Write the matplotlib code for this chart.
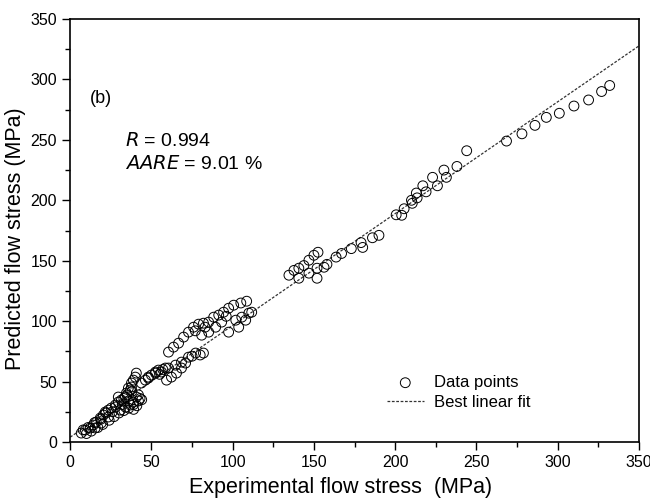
import matplotlib.pyplot as plt
import numpy as np
from matplotlib.ticker import MultipleLocator

plt.rcParams['font.family'] = ['Liberation Sans', 'DejaVu Sans']

# experimental vs predicted flow stress (MPa)
x_low = [6.8, 9.3, 12.3, 14.2, 16, 18.5, 20.4, 21.6, 23.5, 25.3, 27.8, 29.6, 31.5, 34, 34.6,
         37, 37.7, 38.9, 40.1, 40.7, 37.7, 35.8, 29.6, 37, 38.9, 40.7, 34, 30.9, 23.5, 19.1,
         15.4, 10, 13, 17, 20, 24, 27, 30, 33, 36, 39, 42, 41, 43,
         8, 11, 15, 19, 22, 26, 28, 32, 35, 38, 42, 44, 39, 36, 33]
y_low = [7.4, 9.9, 11.6, 14, 16.5, 19.8, 22.3, 24.8, 26.4, 28.1, 30.6, 33, 34.7, 37.2, 40.5,
         43, 45.5, 51.2, 53.7, 57, 48.8, 44.6, 37.2, 30.6, 33, 37.2, 28.9, 26.4, 20.7, 15.7,
         11.6, 7, 9, 12, 14.5, 18, 21, 24, 26, 28, 31, 34, 30, 36,
         10, 12, 16, 19, 24, 25, 29, 31, 39, 42, 39, 35, 27, 34, 36]

x_mid = [43.8, 46.3, 48.1, 50, 52.5, 54.3, 58.6, 59.3, 62.3, 65.4, 68.5, 71,
         48.1, 52.5, 56.2, 60.5, 64.8, 68.5, 72.8, 77.2, 82, 80, 75, 55, 57]
y_mid = [48.8, 51.2, 52.9, 55.4, 57.9, 59.5, 61.2, 51.2, 53.7, 57, 61.2, 65.3,
         53.7, 57, 57.9, 61.2, 63.6, 66.1, 70.2, 73.6, 73.6, 72, 71, 56, 60]

x_arm = [60.5, 63.6, 66.7, 69.8, 72.8, 75.9, 79, 82, 85.2, 88.3, 91.4, 94.4, 97.5, 100.6, 105, 108.6,
         80.9, 85.2, 89.5, 93.2, 97.5, 101.9, 105.6, 109.9, 111.7, 108, 103.7, 77, 83, 96]
y_arm = [74.4, 78.5, 81.8, 86.8, 90.9, 95, 97.5, 98.3, 99.2, 103.3, 105, 107.4, 110.7, 113.2, 115, 116.5,
         88.4, 90.9, 95, 99.2, 90.9, 100.8, 103.3, 106.6, 107.4, 100.8, 95, 92, 95, 104]

x_high = [134.6, 137.7, 140.7, 143.8, 146.9, 150, 152.5, 140.7, 146.9, 151.9, 151.9, 156.2,
          158, 163.6, 167, 173, 180, 179, 186, 190,
          200.6, 204, 205.5, 210.5, 210, 213.5, 213, 219, 217, 226, 223, 231.5, 230, 238, 244,
          268.5, 278, 286, 293, 301, 310, 319, 327, 332]
y_high = [138, 142, 143.8, 146, 150.4, 154.5, 157, 135.5, 139.7, 143.8, 135.5, 144.6,
          147, 153, 156, 160, 161, 165, 169, 171,
          188, 187.6, 193, 197.5, 200, 202, 206, 207, 212, 212, 219, 219, 225, 228, 241,
          249, 255, 262, 268.6, 272, 278, 283, 290, 295]

x_exp = x_low + x_mid + x_arm + x_high
y_pred = y_low + y_mid + y_arm + y_high

# best linear fit as drawn
fit_slope = 0.925
fit_intercept = 4.0
fit_x = [0, 350]

fig = plt.figure(figsize=(6.5, 5), dpi=100)
ax = fig.add_axes([0.108, 0.116, 0.875, 0.846])

ax.scatter(x_exp, y_pred, s=50, facecolors='none', edgecolors='black',
           linewidths=0.7, label='Data points', zorder=3)
fx = np.array(fit_x)
ax.plot(fx, fit_slope * fx + fit_intercept, color='#333333', lw=0.9,
        linestyle=(0, (2.2, 1.3)), label='Best linear fit')

ax.set_xlim(0, 350)
ax.set_ylim(0, 350)
ax.xaxis.set_major_locator(MultipleLocator(50))
ax.xaxis.set_minor_locator(MultipleLocator(25))
ax.yaxis.set_major_locator(MultipleLocator(50))
ax.yaxis.set_minor_locator(MultipleLocator(25))
ax.tick_params(which='both', direction='out', top=False, right=False, labelsize=11.5, width=1)
ax.tick_params(which='major', length=6)
ax.tick_params(which='minor', length=3.5)
for s in ax.spines.values():
    s.set_linewidth(1.2)

ax.set_xlabel('Experimental flow stress  (MPa)', fontsize=15.5)
ax.set_ylabel('Predicted flow stress (MPa)', fontsize=15.5)
ax.xaxis.set_label_coords(0.475, -0.083)
ax.yaxis.set_label_coords(-0.078, 0.48)

ax.text(12, 284, '(b)', fontsize=13, va='center')
ax.text(34, 249, r'$R$ = 0.994', fontsize=14, va='center')
ax.text(34, 230, r'$AARE$ = 9.01 %', fontsize=14, va='center')

ax.legend(loc='lower right', bbox_to_anchor=(0.835, 0.04), frameon=False, fontsize=12,
          handlelength=2.2, handletextpad=0.6, labelspacing=0.3)

fig.savefig('out.png', dpi=100)
